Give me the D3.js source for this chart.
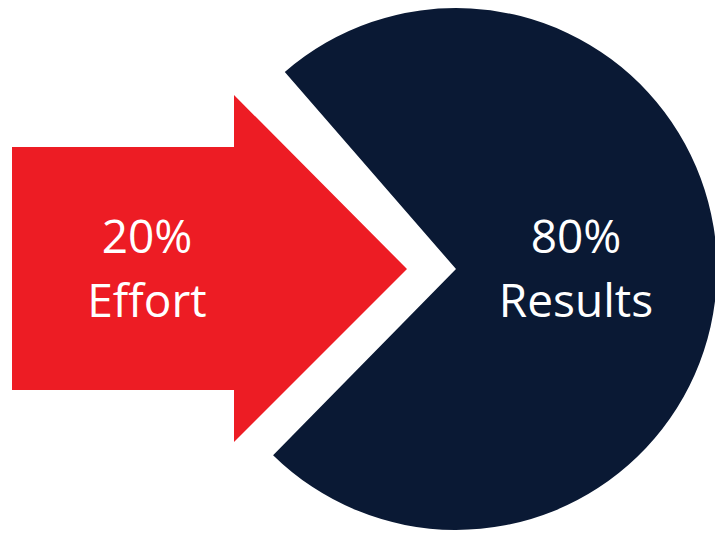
<!DOCTYPE html>
<html>
<head>
<meta charset="utf-8">
<script src="https://cdn.jsdelivr.net/npm/d3@7"></script>
<style>
  html, body { margin: 0; padding: 0; background: #ffffff; }
  svg { display: block; }
</style>
</head>
<body>
<svg id="chart" width="715" height="533"></svg>
<script>
// ---- data ----
const categories = ["Effort", "Results"];
const values = [20, 80];
const percentLabels = ["20%", "80%"];

// ---- layout ----
const W = 715, H = 533;
const cx = 456, cy = 269, R = 261;
const colors = ["#ED1C24", "#0A1934"];
const rotation = 1.75 * Math.PI / 180;

const svg = d3.select("#chart");

// Pie layout: the 20% slice faces left, the 80% slice faces right
const start = -126 * Math.PI / 180 + rotation;
const pie = d3.pie().value(d => d).sort(null)
  .startAngle(start).endAngle(start + 2 * Math.PI);
const arcs = pie(values);

const arc = d3.arc().innerRadius(0).outerRadius(R).padAngle(0.393);

// 80% slice (Results)
svg.append("path")
  .attr("d", arc(arcs[1]))
  .attr("transform", `translate(${cx},${cy})`)
  .attr("fill", colors[1]);

// 20% (Effort) drawn as an arrow pointing into the gap
const arrow = { left: 12, bodyTop: 147, bodyBottom: 390, neck: 234, headTop: 95, headBottom: 442, tip: 407 };
const mid = (arrow.bodyTop + arrow.bodyBottom) / 2 + 0.5;
const arrowPts = [
  [arrow.left, arrow.bodyTop],
  [arrow.neck, arrow.bodyTop],
  [arrow.neck, arrow.headTop],
  [arrow.tip, mid],
  [arrow.neck, arrow.headBottom],
  [arrow.neck, arrow.bodyBottom],
  [arrow.left, arrow.bodyBottom]
];
svg.append("path")
  .attr("d", d3.line()(arrowPts) + "Z")
  .attr("fill", colors[0]);

// labels
const labelPos = [
  { x: 147, y1: 253, y2: 317 },
  { x: 576, y1: 253, y2: 317 }
];
const font = "'Open Sans', 'Noto Sans', sans-serif";
categories.forEach((c, i) => {
  const g = svg.append("g")
    .attr("fill", "#ffffff")
    .attr("font-family", font)
    .attr("font-size", 46)
    .attr("text-anchor", "middle");
  g.append("text").attr("x", labelPos[i].x).attr("y", labelPos[i].y1).text(percentLabels[i]);
  g.append("text").attr("x", labelPos[i].x).attr("y", labelPos[i].y2).text(c);
});
</script>
</body>
</html>
